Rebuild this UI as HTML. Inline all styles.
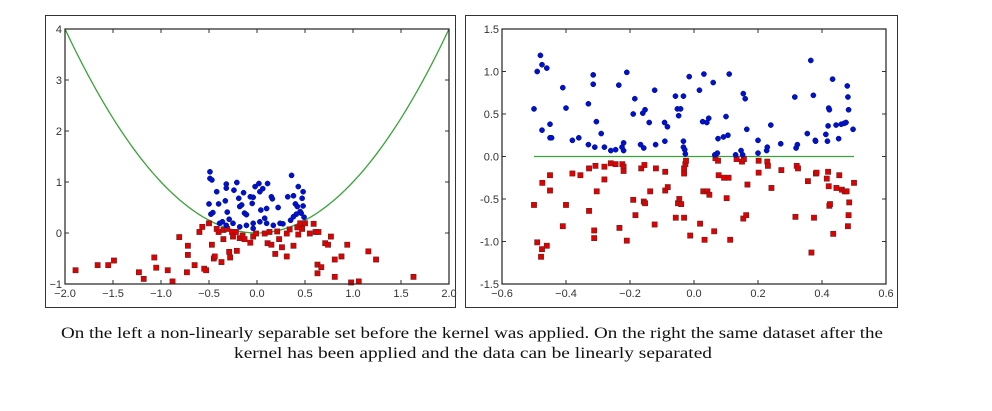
<!DOCTYPE html>
<html><head><meta charset="utf-8"><style>
html,body{margin:0;padding:0;background:#fff;}
svg{display:block;font-family:"Liberation Sans",sans-serif;}
.tl{font-size:11px;fill:#333;}
.cap{font-family:"Liberation Serif",serif;font-size:15.5px;fill:#111;}
</style></head><body>
<svg id="s" width="992" height="411" viewBox="0 0 992 411">
<rect x="45.5" y="15.5" width="410" height="292" fill="none" stroke="#333" stroke-width="1"/>
<rect x="465.5" y="15.5" width="432" height="292" fill="none" stroke="#333" stroke-width="1"/>
<g id="L"></g>
<g id="R"></g>
<text class="cap" x="472" y="338" text-anchor="middle" textLength="822" lengthAdjust="spacingAndGlyphs">On the left a non-linearly separable set before the kernel was applied. On the right the same dataset after the</text>
<text class="cap" x="473" y="358" text-anchor="middle" textLength="478" lengthAdjust="spacingAndGlyphs">kernel has been applied and the data can be linearly separated</text>
</svg>
<script>
const leftXTicks=[-2.0,-1.5,-1.0,-0.5,0.0,0.5,1.0,1.5,2.0];
const leftXTickLabels=["\u22122.0","\u22121.5","\u22121.0","\u22120.5","0.0","0.5","1.0","1.5","2.0"];
const leftYTicks=[-1,0,1,2,3,4];
const leftYTickLabels=["\u22121","0","1","2","3","4"];
const leftBlueX=[-0.49,-0.49,-0.47,-0.5,-0.42,-0.40,-0.48,-0.46,-0.39,-0.36,-0.33,-0.32,-0.32,-0.31,-0.29,-0.24,-0.21,-0.19,-0.18,-0.16,-0.14,-0.13,-0.11,-0.07,-0.05,-0.04,-0.02,0.02,0.03,0.04,0.06,0.11,0.1,0.15,0.16,0.22,0.32,0.36,0.38,0.43,0.48,0.47,0.48,0.40,0.42,0.45,0.46,0.49,0.41,0.35,0.24,0.17,0.08,0.03,-0.04,-0.11,-0.18,-0.25,-0.04,0.1,0.27,0.38,-0.32];
const leftBlueY=[1.20,1.07,1.04,0.57,0.81,0.57,0.37,0.40,0.19,0.22,0.63,0.96,0.88,0.41,0.27,0.84,0.99,0.68,0.52,0.55,0.79,0.39,0.36,0.71,0.58,0.70,0.91,0.97,0.81,0.45,0.87,0.97,0.48,0.71,0.67,0.50,0.71,1.13,0.73,0.91,0.81,0.68,0.53,0.57,0.52,0.42,0.39,0.31,0.37,0.25,0.19,0.15,0.29,0.22,0.19,0.15,0.12,0.19,0.09,0.19,0.18,0.32,0.15];
const leftRedX=[-1.89,-1.66,-1.55,-1.49,-1.23,-1.18,-1.07,-1.05,-0.93,-0.88,-0.81,-0.73,-0.72,-0.72,-0.65,-0.60,-0.57,-0.55,-0.53,-0.50,-0.47,-0.45,-0.44,-0.42,-0.40,-0.37,-0.35,-0.35,-0.31,-0.29,-0.28,-0.26,-0.25,-0.22,-0.21,-0.18,-0.15,-0.13,-0.07,-0.04,-0.01,0.08,0.11,0.13,0.15,0.19,0.21,0.23,0.26,0.31,0.31,0.34,0.38,0.42,0.43,0.45,0.47,0.50,0.55,0.59,0.61,0.63,0.63,0.64,0.67,0.71,0.74,0.77,0.81,0.81,0.88,0.94,0.98,1.06,1.16,1.24,1.63];
const leftRedY=[-0.73,-0.63,-0.63,-0.54,-0.77,-0.90,-0.48,-0.68,-0.73,-0.95,-0.08,-0.77,-0.25,-0.43,-0.63,0.02,0.12,-0.70,-0.73,0.19,-0.23,-0.50,-0.46,0.08,0.02,-0.57,-0.12,0.06,0.08,-0.37,-0.48,0.02,-0.07,0.02,-0.35,-0.10,-0.05,-0.12,-0.19,-0.07,-0.01,-0.01,-0.20,0.02,-0.23,-0.41,0.03,-0.12,-0.28,-0.46,-0.01,0.07,-0.25,0.11,-0.03,0.19,0.08,0.19,-0.01,0.18,0.02,-0.62,-0.79,0.02,-0.67,-0.20,-0.23,-0.07,-0.52,-0.86,-0.46,-0.23,-0.97,-0.95,-0.36,-0.52,-0.86];

const rightXTicks=[-0.6,-0.4,-0.2,0.0,0.2,0.4,0.6];
const rightXTickLabels=["\u22120.6","\u22120.4","\u22120.2","0.0","0.2","0.4","0.6"];
const rightYTicks=[-1.5,-1.0,-0.5,0.0,0.5,1.0,1.5];
const rightYTickLabels=["-1.5","-1.0","-0.5","0.0","0.5","1.0","1.5"];
const rightBlueX=[-0.5,-0.49,-0.48,-0.475,-0.475,-0.46,-0.45,-0.45,-0.445,-0.41,-0.40,-0.38,-0.36,-0.33,-0.33,-0.315,-0.315,-0.31,-0.305,-0.29,-0.28,-0.26,-0.245,-0.235,-0.225,-0.22,-0.22,-0.21,-0.19,-0.185,-0.167,-0.16,-0.153,-0.157,-0.14,-0.123,-0.12,-0.092,-0.091,-0.083,-0.058,-0.052,-0.048,-0.042,-0.033,-0.033,-0.033,-0.029,-0.027,-0.015,0.017,0.027,0.031,0.04,0.046,0.06,0.065,0.073,0.075,0.092,0.1,0.106,0.11,0.13,0.147,0.152,0.154,0.16,0.165,0.2,0.2,0.227,0.229,0.24,0.271,0.315,0.319,0.323,0.354,0.365,0.373,0.379,0.38,0.412,0.417,0.419,0.421,0.423,0.433,0.444,0.452,0.46,0.469,0.475,0.479,0.481,0.483,0.497];
const rightBlueY=[0.56,1.0,1.19,1.08,0.31,1.04,0.38,0.22,0.22,0.81,0.57,0.19,0.22,0.62,0.14,0.96,0.85,0.11,0.41,0.27,0.11,0.07,0.08,0.84,0.11,0.07,0.16,0.99,0.50,0.68,0.14,0.51,0.55,0.10,0.40,0.78,0.14,0.40,0.18,0.35,0.71,0.56,0.48,0.56,0.71,0.18,0.11,0.08,0.03,0.94,0.78,0.41,0.97,0.40,0.45,0.87,0.02,0.04,0.21,0.23,0.47,0.25,0.97,0.02,0.07,0.02,0.74,0.68,0.32,0.19,0.04,0.07,0.11,0.37,0.15,0.70,0.10,0.14,0.27,1.13,0.72,0.19,0.18,0.26,0.18,0.36,0.57,0.55,0.91,0.37,0.21,0.38,0.39,0.40,0.83,0.70,0.55,0.32];
const rightRedX=[-0.5,-0.49,-0.475,-0.478,-0.474,-0.46,-0.45,-0.45,-0.41,-0.4,-0.38,-0.355,-0.328,-0.328,-0.312,-0.312,-0.308,-0.304,-0.28,-0.28,-0.26,-0.245,-0.233,-0.224,-0.22,-0.22,-0.21,-0.19,-0.183,-0.165,-0.157,-0.153,-0.155,-0.137,-0.123,-0.119,-0.09,-0.09,-0.082,-0.057,-0.05,-0.046,-0.04,-0.031,-0.031,-0.031,-0.027,-0.025,-0.012,0.019,0.029,0.033,0.042,0.048,0.063,0.067,0.075,0.077,0.094,0.102,0.108,0.113,0.133,0.15,0.154,0.156,0.163,0.167,0.202,0.202,0.229,0.231,0.242,0.273,0.317,0.321,0.325,0.356,0.367,0.375,0.381,0.383,0.415,0.419,0.421,0.423,0.425,0.435,0.445,0.454,0.462,0.471,0.477,0.481,0.483,0.485,0.5];
const rightRedY=[-0.57,-1.01,-1.09,-1.18,-0.31,-1.05,-0.22,-0.40,-0.82,-0.57,-0.20,-0.22,-0.64,-0.14,-0.87,-0.96,-0.11,-0.41,-0.27,-0.12,-0.08,-0.09,-0.84,-0.09,-0.12,-0.17,-0.99,-0.51,-0.69,-0.14,-0.53,-0.55,-0.10,-0.41,-0.80,-0.14,-0.40,-0.18,-0.36,-0.72,-0.55,-0.50,-0.56,-0.72,-0.20,-0.14,-0.09,-0.05,-0.93,-0.79,-0.41,-0.98,-0.41,-0.45,-0.88,-0.02,-0.05,-0.22,-0.25,-0.49,-0.25,-0.98,-0.03,-0.06,-0.73,-0.03,-0.69,-0.33,-0.19,-0.05,-0.06,-0.11,-0.37,-0.16,-0.71,-0.11,-0.14,-0.29,-1.13,-0.72,-0.20,-0.19,-0.26,-0.18,-0.35,-0.58,-0.56,-0.91,-0.37,-0.22,-0.39,-0.41,-0.41,-0.82,-0.69,-0.54,-0.31];

const NS="http://www.w3.org/2000/svg";
function mk(parent,tag,attrs){const e=document.createElementNS(NS,tag);for(const k in attrs)e.setAttribute(k,attrs[k]);parent.appendChild(e);return e;}

function drawChart(g,box,xd,yd,xt,xtl,yt,ytl,blueX,blueY,redX,redY,curve){
  const sx=v=>box.x0+(v-xd[0])/(xd[1]-xd[0])*(box.x1-box.x0);
  const sy=v=>box.y1-(v-yd[0])/(yd[1]-yd[0])*(box.y1-box.y0);
  xt.forEach((t,i)=>{
    const x=sx(t);
    const a=mk(g,'line',{x1:x,x2:x,y1:box.y1,y2:box.y1-4,stroke:'#333','stroke-width':1});
    
    
    const b=mk(g,'line',{x1:x,x2:x,y1:box.y0,y2:box.y0+4,stroke:'#333','stroke-width':1});
    
    
    const tx=mk(g,'text',{x:x,y:box.y1+13,'text-anchor':'middle',class:'tl'});
    tx.textContent=xtl[i];
    
    
  });
  yt.forEach((t,i)=>{
    const y=sy(t);
    const a=mk(g,'line',{x1:box.x0,x2:box.x0+4,y1:y,y2:y,stroke:'#333','stroke-width':1});
    
    
    const b=mk(g,'line',{x1:box.x1,x2:box.x1-4,y1:y,y2:y,stroke:'#333','stroke-width':1});
    
    
    const tx=mk(g,'text',{x:box.x0-3,y:y+4,'text-anchor':'end',class:'tl'});
    tx.textContent=ytl[i];
    
    
  });
  const pts=curve.xs.map((x,i)=>sx(x).toFixed(2)+','+sy(curve.ys[i]).toFixed(2)).join(' ');
  const pl=mk(g,'polyline',{points:pts,fill:'none',stroke:'#3aa33a','stroke-width':1.3});
  
  
  redX.forEach((x,i)=>{
    const r=mk(g,'rect',{x:sx(x)-2.6,y:sy(redY[i])-2.6,width:5.2,height:5.2,fill:'#e00000',stroke:'#6a2020','stroke-width':0.6});
    
    
  });
  blueX.forEach((x,i)=>{
    const c=mk(g,'circle',{cx:sx(x),cy:sy(blueY[i]),r:2.6,fill:'#0010d0',stroke:'#001070','stroke-width':0.5});
    
    
  });
  const f=mk(g,'rect',{x:box.x0,y:box.y0,width:box.x1-box.x0,height:box.y1-box.y0,fill:'none',stroke:'#222','stroke-width':1.2});
  
  
}
const parabX=[],parabY=[];
for(let i=0;i<=100;i++){const x=-2+4*i/100;parabX.push(x);parabY.push(x*x);}
drawChart(document.getElementById('L'),{x0:65,x1:449,y0:29,y1:284},[-2,2],[-1,4],leftXTicks,leftXTickLabels,leftYTicks,leftYTickLabels,leftBlueX,leftBlueY,leftRedX,leftRedY,{xs:parabX,ys:parabY});
drawChart(document.getElementById('R'),{x0:502,x1:886,y0:29,y1:284},[-0.6,0.6],[-1.5,1.5],rightXTicks,rightXTickLabels,rightYTicks,rightYTickLabels,rightBlueX,rightBlueY,rightRedX,rightRedY,{xs:[-0.5,0.5],ys:[0,0]});
</script>
</body></html>
